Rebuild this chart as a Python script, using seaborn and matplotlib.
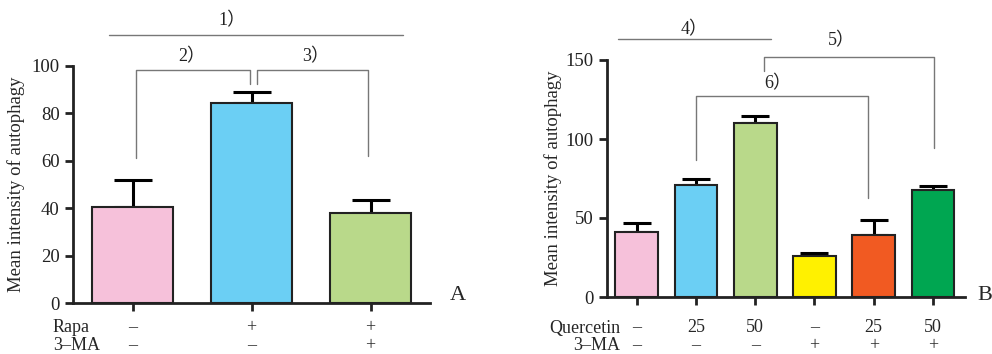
import matplotlib
matplotlib.use('Agg')
import matplotlib.pyplot as plt
import matplotlib.transforms as mtrans
import pandas as pd
import seaborn as sns

# Panel A data
groupsA = ['Control', 'Rapa', 'Rapa+3-MA']
meanA = [40.5, 84.5, 38.0]
errA = [11.5, 4.5, 5.5]
colorsA = ['#F6C1DA', '#6BCFF4', '#B9D98A']
rapaRow = ['–', '+', '+']
maRowA = ['–', '–', '+']

# Panel B data
groupsB = ['Ctrl', 'Q25', 'Q50', '3-MA', 'Q25+3-MA', 'Q50+3-MA']
meanB = [41, 71, 110, 26, 39, 68]
errB = [6, 4, 4.5, 2, 10, 2]
colorsB = ['#F6C1DA', '#6BCFF4', '#B9D98A', '#FFF100', '#F15A22', '#00A651']
quercetinRow = ['–', '25', '50', '–', '25', '50']
maRowB = ['–', '–', '–', '+', '+', '+']

# significance marks: (x0, x1, y_top, y_left_end, y_right_end, label, label_x, label_y)
bracketsA = [(0.03, 0.99, 98.3, 61, 92.4, '2）', 0.5, 104),
             (1.05, 1.98, 98.3, 92.4, 62, '3）', 1.54, 104)]
linesA = [(-0.2, 2.27, 113, '1）', 0.84, 119)]
bracketsB = [(2.15, 5.02, 152, 143, 94, '5）', 3.45, 162),
             (1.0, 3.9, 127, 87, 62.5, '6）', 2.38, 135)]
linesB = [(-0.32, 2.27, 163, '4）', 0.97, 169)]

sns.set_style('white')
plt.rcParams['font.family'] = ['Liberation Serif', 'Noto Sans CJK SC']
plt.rcParams['axes.linewidth'] = 2

fig = plt.figure(figsize=(9.92, 3.54), dpi=100)
axA = fig.add_axes([73/992, 1-303/354, 357/992, 237/354])
axB = fig.add_axes([607/992, 1-297/354, 358/992, 237/354])

gray = '#777777'


def drawPanel(ax, groups, means, errs, colors, width, capsize, ymax, yticks, xmax):
    df = pd.DataFrame({'group': groups, 'mean': means})
    sns.barplot(ax=ax, data=df, x='group', y='mean', hue='group', palette=colors,
                width=width, edgecolor='#222222', linewidth=1.5, errorbar=None,
                legend=False, saturation=1)
    ax.errorbar(range(len(groups)), means, yerr=[[0]*len(errs), errs], fmt='none',
                ecolor='black', elinewidth=2.2, capsize=capsize, capthick=2.2, zorder=1)
    for p in ax.patches:
        p.set_zorder(2)
    ax.set_ylim(0, ymax)
    ax.set_xlim(-0.5, xmax)
    ax.set_yticks(yticks)
    ax.set_xticks(range(len(groups)))
    ax.set_xticklabels([])
    ax.set_xlabel('')
    ax.set_ylabel('Mean intensity of autophagy', fontsize=13.5)
    ax.tick_params(axis='both', direction='out', length=6, width=2, left=True, bottom=True,
                   labelsize=13.5, colors='#222222')
    sns.despine(ax=ax)
    for s in ['left', 'bottom']:
        ax.spines[s].set_color('#222222')


drawPanel(axA, groupsA, meanA, errA, colorsA, 0.68, 14, 100, [0, 20, 40, 60, 80, 100], 2.5)
drawPanel(axB, groupsB, meanB, errB, colorsB, 0.72, 10, 150, [0, 50, 100, 150], 5.54)
axA.yaxis.labelpad = 5
axB.yaxis.labelpad = 3

for ax, brackets, lines in [(axA, bracketsA, linesA), (axB, bracketsB, linesB)]:
    for x0, x1, yt, yl, yr, lab, lx, ly in brackets:
        ax.plot([x0, x0, x1, x1], [yl, yt, yt, yr], color=gray, lw=1, clip_on=False)
        ax.text(lx, ly, lab, ha='center', va='center', fontsize=13, color='#222222')
    for x0, x1, y, lab, lx, ly in lines:
        ax.plot([x0, x1], [y, y], color=gray, lw=1, clip_on=False)
        ax.text(lx, ly, lab, ha='center', va='center', fontsize=13, color='#222222')

# treatment rows under axes
rowY1, rowY2 = 1-328/354, 1-346/354
trA = mtrans.blended_transform_factory(axA.transData, fig.transFigure)
for i in range(len(groupsA)):
    axA.text(i, rowY1, rapaRow[i], transform=trA, ha='center', va='center', fontsize=13)
    axA.text(i, rowY2, maRowA[i], transform=trA, ha='center', va='center', fontsize=13)
fig.text(53/992, rowY1, 'Rapa', ha='left', va='center', fontsize=13)
fig.text(53/992, rowY2, '3–MA', ha='left', va='center', fontsize=13)

trB = mtrans.blended_transform_factory(axB.transData, fig.transFigure)
for i in range(len(groupsB)):
    axB.text(i, rowY1, quercetinRow[i], transform=trB, ha='center', va='center', fontsize=13)
    axB.text(i, rowY2, maRowB[i], transform=trB, ha='center', va='center', fontsize=13)
fig.text(620/992, rowY1, 'Quercetin', ha='right', va='center', fontsize=13)
fig.text(620/992, rowY2, '3–MA', ha='right', va='center', fontsize=13)

fig.text(458/992, 1-296/354, 'A', ha='center', va='center', fontsize=16)
fig.text(985/992, 1-296/354, 'B', ha='center', va='center', fontsize=16)

fig.savefig('out.png', dpi=100)
